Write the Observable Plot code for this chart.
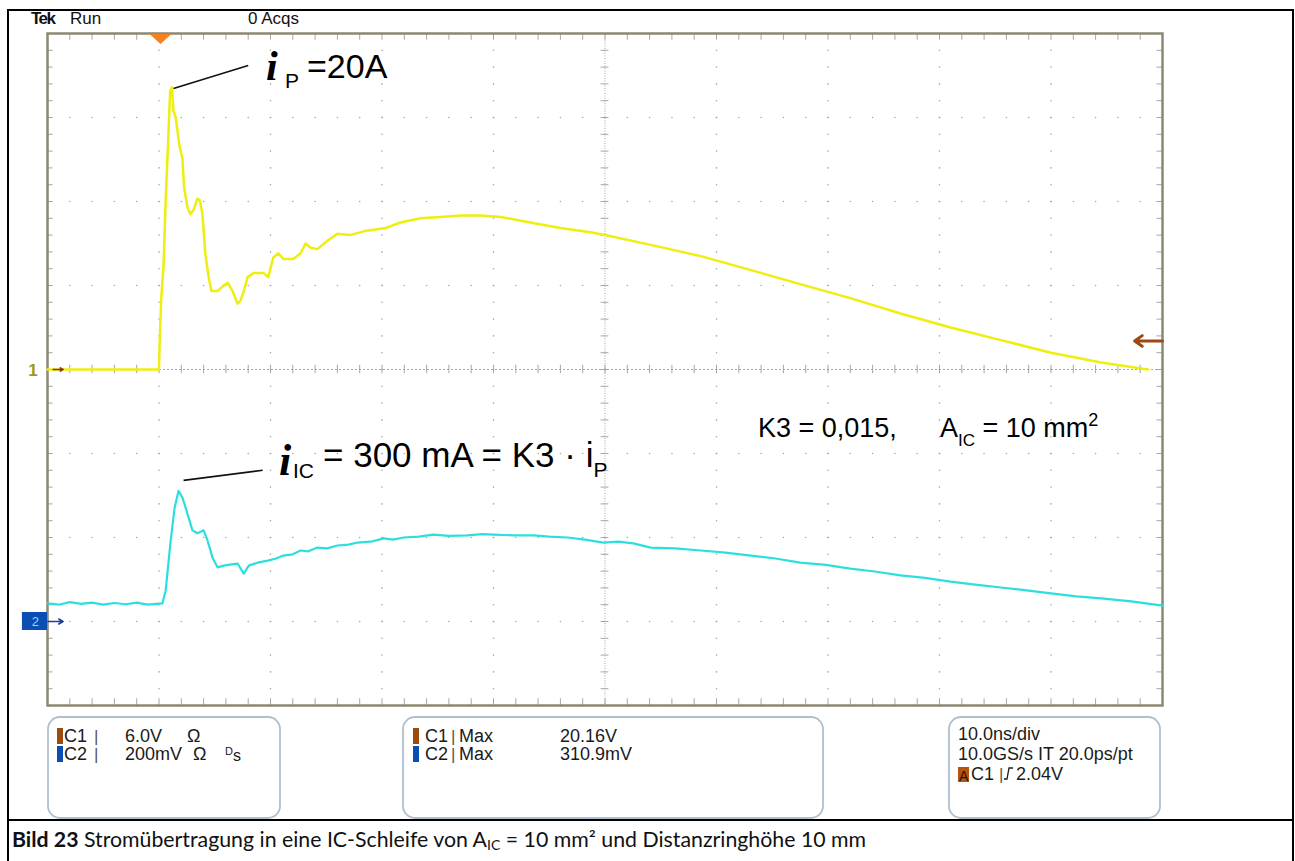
<!DOCTYPE html>
<html>
<head>
<meta charset="utf-8">
<script src="https://cdn.jsdelivr.net/npm/d3@7"></script>
<script src="https://cdn.jsdelivr.net/npm/@observablehq/plot@0.6"></script>
<style>
  html, body { margin: 0; padding: 0; background: #fff; }
  #wrap { position: relative; width: 1295px; height: 861px; overflow: hidden; background: #fff; }
  #chart { position: absolute; left: 0; top: 0; }
  #frame { position: absolute; left: 7px; top: 9px; width: 1287px; height: 870px;
           border: 2.5px solid #000; box-sizing: border-box; pointer-events: none; }
  #caption { position: absolute; left: 7px; top: 819px; width: 1287px; height: 50px;
             border-top: 2.5px solid #000; box-sizing: border-box;
             font-family: Lato, Carlito, "Open Sans", sans-serif; font-size: 21.3px; color: #111;
             padding: 5px 0 0 5px; white-space: nowrap; }
  #caption sub { font-size: 14px; vertical-align: -3px; line-height: 0; }
  #caption b { font-weight: 700; }
</style>
</head>
<body>
<div id="wrap">
  <div id="chart"></div>
  <div id="caption"><b>Bild 23</b> Stromübertragung in eine IC-Schleife von A<sub>IC</sub> = 10 mm² und Distanzringhöhe 10 mm</div>
  <div id="frame"></div>
</div>
<script>
// Scope settings
const ch1VoltsPerDiv = 6.0;        // C1: 6.0 V/div
const ch2MilliVoltsPerDiv = 200;   // C2: 200 mV/div
const ch2Position = -3;            // C2 ground marker, divisions from centre
const triggerLevel = 2.04;         // A C1 rising edge, volts
const timeDomain = [-10, 90];      // ns, 10.0 ns/div, trigger at 0
const divDomain = [-4, 4];

// C1 – primary current i_P (probe output in volts), time in ns
const ch1 = [
  [-10, 0], [-5, 0], [0, 0], [0.05, 1.7], [0.2, 5.1], [0.4, 7.3], [0.6, 12.1], [0.8, 15.9],
  [1.0, 19.9], [1.15, 20.16], [1.3, 18.5], [1.5, 18.0], [1.85, 15.9], [2.1, 15.1], [2.25, 13.0],
  [2.55, 11.6], [2.8, 11.1], [3.1, 11.4], [3.45, 12.2], [3.65, 12.1], [3.9, 11.1], [4.15, 8.3],
  [4.45, 6.6], [4.7, 5.6], [5.25, 5.6], [5.8, 6.0], [6.15, 6.2], [6.6, 5.6], [7.05, 4.7],
  [7.3, 4.9], [7.6, 5.6], [7.95, 6.6], [8.5, 6.9], [9.35, 6.9], [9.8, 6.6], [10.25, 8.0],
  [10.7, 8.3], [11.15, 7.9], [12.05, 7.9], [12.7, 8.3], [13.15, 9.0], [13.6, 8.7], [14.2, 8.6],
  [15.1, 9.2], [16.0, 9.7], [17.15, 9.6], [18.5, 9.9], [20.3, 10.1], [21.65, 10.5], [23.45, 10.8],
  [25.25, 10.9], [27.05, 11.0], [28.85, 11.0], [30.65, 10.9], [33.3, 10.5], [36.0, 10.1],
  [38.7, 9.8], [40.0, 9.6], [44.1, 8.9], [48.6, 8.1], [53.1, 7.1], [57.5, 6.1], [62.0, 5.1],
  [66.5, 4.0], [71.0, 3.0], [75.5, 2.1], [80.0, 1.2], [84.5, 0.5], [88.7, 0.0]
];

// C2 – induced current i_IC in the IC loop (mV), time in ns
const ch2 = [
  [-10, 43], [-9, 40], [-8, 46], [-7, 42], [-6, 45], [-5, 40], [-4, 44], [-3, 41], [-2, 45],
  [-1, 40], [0.3, 43], [0.6, 74], [0.75, 114], [1.05, 193], [1.4, 271], [1.75, 310.9],
  [2.1, 295], [2.55, 257], [3.0, 217], [3.45, 210], [4.0, 217], [4.35, 193], [4.8, 152],
  [5.25, 129], [5.8, 133], [6.5, 136], [7.05, 138], [7.6, 114], [8.05, 133], [8.85, 140],
  [9.75, 145], [10.5, 150], [11.15, 157], [12.0, 160], [12.7, 169], [13.4, 167], [14.2, 176],
  [15.1, 174], [16.0, 181], [17.0, 183], [17.8, 188], [19.0, 190], [20.15, 198], [21.0, 195],
  [21.95, 200], [23.3, 202], [24.6, 207], [26.0, 204], [27.65, 205], [29.0, 208], [30.0, 207],
  [31.8, 205], [33.6, 205], [35.0, 202], [36.65, 200], [38.2, 195], [39.85, 188], [41.2, 190],
  [42.55, 186], [44.1, 176], [46.3, 174], [48.6, 169], [50.8, 164], [53.1, 157], [55.3, 150],
  [57.5, 140], [59.8, 135], [62.0, 126], [64.2, 119], [66.5, 110], [68.7, 104], [71.0, 95],
  [73.2, 88], [75.5, 81], [77.8, 74], [80.0, 67], [82.3, 60], [84.5, 55], [87.2, 48], [90.0, 38]
];

// Readouts
const channelRows = [
  {ch: "C1", scale: "6.0V", imp: "Ω", color: "#9c4a0e"},
  {ch: "C2", scale: "200mV", imp: "Ω", color: "#0b4eb3"}
];
const measureRows = [
  {ch: "C1", name: "Max", value: "20.16V", color: "#9c4a0e"},
  {ch: "C2", name: "Max", value: "310.9mV", color: "#0b4eb3"}
];
const timebaseRows = ["10.0ns/div", "10.0GS/s IT 20.0ps/pt"];

// Graticule positions (in divisions / ns)
const majorX = d3.range(timeDomain[0], timeDomain[1] + 0.001, 10);
const minorX = d3.range(timeDomain[0], timeDomain[1] + 0.001, 2);
const majorY = d3.range(divDomain[0], divDomain[1] + 0.001, 1);
const minorY = d3.range(divDomain[0], divDomain[1] + 0.001, 0.2);
const centreX = 40, centreY = 0;

const gridDots = [];
for (const y of majorY) if (y > -4 && y < 4 && y !== centreY)
  for (const x of minorX) gridDots.push({x, y});
for (const x of majorX) if (x > -10 && x < 90 && x !== centreX)
  for (const y of minorY) gridDots.push({x, y});

const c1 = ch1.map(([t, v]) => ({t, d: v / ch1VoltsPerDiv}));
const c2 = ch2.map(([t, mv]) => ({t, d: ch2Position + mv / ch2MilliVoltsPerDiv}));
const gridColor = "#a6a6a6";

const plot = Plot.plot({
  width: 1295,
  height: 820,
  marginLeft: 47, marginRight: 133, marginTop: 33, marginBottom: 115,
  x: {domain: timeDomain, axis: null},
  y: {domain: divDomain, axis: null},
  style: {background: "#fff", overflow: "visible"},
  marks: [
    Plot.dot(gridDots, {x: "x", y: "y", r: 0.8, fill: gridColor, stroke: null}),
    // centre cross
    Plot.ruleY([centreY], {stroke: gridColor, strokeDasharray: "2,2"}),
    Plot.ruleX(minorX, {x: d => d, y1: -0.05, y2: 0.05, stroke: gridColor}),
    Plot.ruleX([centreX], {stroke: gridColor, strokeDasharray: "1,1.5"}),
    Plot.ruleY(minorY, {y: d => d, x1: centreX - 0.35, x2: centreX + 0.35, stroke: gridColor}),
    // edge ticks
    Plot.ruleX(minorX, {x: d => d, y1: 4, y2: 3.92, stroke: gridColor}),
    Plot.ruleX(minorX, {x: d => d, y1: -4, y2: -3.92, stroke: gridColor}),
    Plot.ruleY(minorY, {y: d => d, x1: -10, x2: -9.5, stroke: gridColor}),
    Plot.ruleY(minorY, {y: d => d, x1: 90, x2: 89.5, stroke: gridColor}),
    Plot.frame({stroke: "#8d8873", strokeWidth: 2.5}),
    // traces
    Plot.line(c2, {x: "t", y: "d", stroke: "#2ddede", strokeWidth: 2.2}),
    Plot.line(c1, {x: "t", y: "d", stroke: "#eeee10", strokeWidth: 2.5}),
    // leader lines to the peak labels
    Plot.link([{x1: 1.3, y1: 3.345, x2: 8.0, y2: 3.62}, {x1: 2.2, y1: -1.32, x2: 9.3, y2: -1.2}],
      {x1: "x1", y1: "y1", x2: "x2", y2: "y2", stroke: "#111", strokeWidth: 1.6}),
    // channel / trigger markers
    Plot.arrow([0], {x1: -9.5, x2: -8.6, y1: 0, y2: 0, stroke: "#8b3a10", strokeWidth: 1.5, headLength: 5}),
    Plot.arrow([0], {x1: -9.95, x2: -8.6, y1: ch2Position, y2: ch2Position, stroke: "#1a3f9a", strokeWidth: 1.5, headLength: 5}),
    Plot.arrow([0], {x1: 90, x2: 87.5, y1: triggerLevel / ch1VoltsPerDiv, y2: triggerLevel / ch1VoltsPerDiv,
      stroke: "#9b4a12", strokeWidth: 3, headLength: 9, headAngle: 70}),
    Plot.rect([0], {x1: -12.25, x2: -10, y1: ch2Position - 0.107, y2: ch2Position + 0.107, fill: "#0b4eb3"}),
    Plot.text(["2"], {x: -11.1, y: ch2Position, text: d => d, fill: "#8fd8e8", fontSize: 13, fontFamily: "Arial, 'Liberation Sans', sans-serif"}),
    Plot.text(["1"], {x: -11.3, y: 0, dy: 1, text: d => d, fill: "#9c9a1e", fontSize: 17, fontWeight: "bold", fontFamily: "Arial, 'Liberation Sans', sans-serif"})
  ]
});
document.getElementById("chart").appendChild(plot);

// Overlay: header, trigger position marker, annotations, readout boxes
const svg = d3.select(plot);
const sx = v => plot.scale("x").apply(v);
const sy = v => plot.scale("y").apply(v);
const SANS = "Arial, 'Liberation Sans', sans-serif";
const SERIF = "'Liberation Serif', 'Times New Roman', serif";

function txt(x, y, s, opt = {}) {
  return svg.append("text").attr("x", x).attr("y", y)
    .attr("text-anchor", "start")
    .attr("font-family", opt.family || SANS).attr("font-size", opt.size || 18)
    .attr("font-weight", opt.weight || "normal").attr("font-style", opt.style || "normal")
    .attr("fill", opt.fill || "#1a1a1a").style("white-space", "pre").text(s);
}

// header
txt(31, 24, "Tek", {size: 17, weight: "bold", fill: "#111"}).attr("letter-spacing", -1.5);
txt(70, 24, "Run", {size: 17, fill: "#111"});
txt(248, 24, "0 Acqs", {size: 17, fill: "#111"});

// trigger position marker
{
  const cx = sx(0) + 2, top = sy(4) + 1;
  svg.append("path").attr("d", `M${cx - 11},${top} L${cx + 11},${top} L${cx},${top + 10} Z`).attr("fill", "#f5821f");
}

// peak annotations
txt(266, 80, "i", {family: SERIF, size: 42, weight: "bold", style: "italic", fill: "#000"});
txt(285, 88, "P", {size: 21, fill: "#000"});
txt(307, 78, "=20A", {size: 34, fill: "#000"});

txt(279, 475, "i", {family: SERIF, size: 44, weight: "bold", style: "italic", fill: "#000"});
txt(293, 478, "IC", {size: 21, fill: "#000"});
{
  const t = txt(323, 467, "= 300 mA = K3 · i", {size: 35, fill: "#000"});
  t.append("tspan").attr("dy", 10).attr("font-size", 21).text("P");
}
{
  txt(758, 437, "K3 = 0,015,", {size: 27, fill: "#000"});
  const t2 = txt(940, 437, "A", {size: 27, fill: "#000"});
  t2.append("tspan").attr("dy", 9).attr("font-size", 17).text("IC");
  t2.append("tspan").attr("dy", -9).text(" = 10 mm");
  t2.append("tspan").attr("dy", -11).attr("font-size", 18).text("2");
}

// readout boxes
const boxStroke = "#aebfd2";
function box(x1, x2) {
  svg.append("rect").attr("x", x1).attr("y", 717).attr("width", x2 - x1).attr("height", 101)
    .attr("rx", 12).attr("fill", "#fff").attr("stroke", boxStroke).attr("stroke-width", 1.8);
}
box(48, 280); box(403, 823); box(949, 1160);

channelRows.forEach((r, i) => {
  const base = 742 + i * 18;
  svg.append("rect").attr("x", 57).attr("y", base - 14).attr("width", 6).attr("height", 16).attr("fill", r.color);
  txt(64, base, r.ch);
  txt(94, base, "|", {size: 17, fill: "#555"});
  txt(125, base, r.scale);
  txt(i === 0 ? 187 : 193, base, r.imp);
});
txt(225, 755, "D", {size: 11});
txt(233, 761, "s", {size: 16});

measureRows.forEach((r, i) => {
  const base = 742 + i * 18;
  svg.append("rect").attr("x", 413).attr("y", base - 14).attr("width", 6).attr("height", 16).attr("fill", r.color);
  txt(425, base, r.ch);
  txt(451, base, "|", {size: 17, fill: "#555"});
  txt(459, base, r.name);
  txt(560, base, r.value);
});

timebaseRows.forEach((s, i) => txt(958, 740 + i * 20, s));
svg.append("rect").attr("x", 958).attr("y", 767).attr("width", 11).attr("height", 15).attr("fill", "#b5530f");
txt(959, 781, "A", {size: 14, fill: "#2a1200"});
txt(971, 780, "C1");
txt(999, 780, "|", {size: 17, fill: "#555"});
svg.append("path").attr("d", "M1004,779 L1007,779 L1009,768 L1013,768")
  .attr("fill", "none").attr("stroke", "#1a1a1a").attr("stroke-width", 1.3);
txt(1016, 780, triggerLevel.toFixed(2) + "V");
</script>
</body>
</html>
